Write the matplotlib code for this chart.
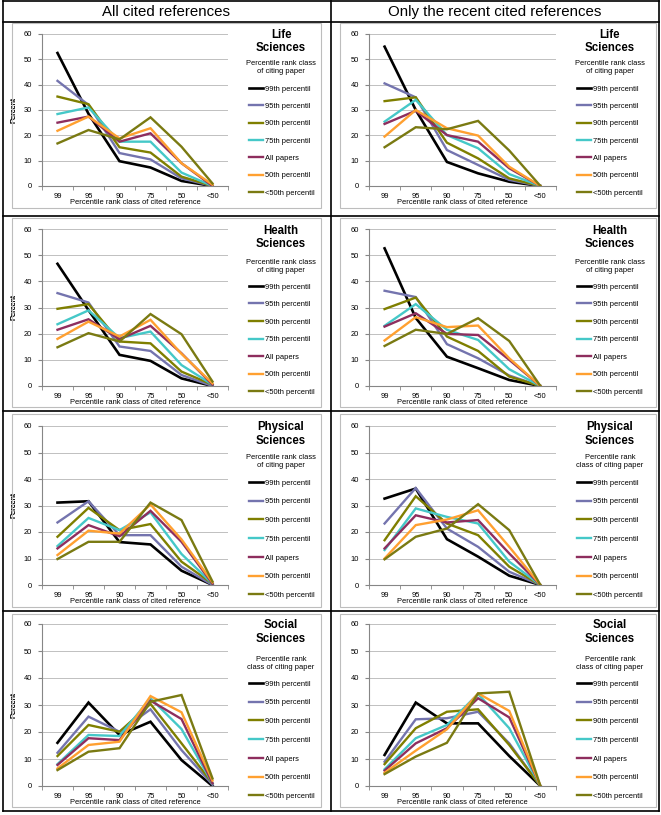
import matplotlib.pyplot as plt
from matplotlib.lines import Line2D
from matplotlib.patches import Rectangle

plt.rcParams['font.family'] = ['Liberation Sans', 'DejaVu Sans']

# ---- data (percent of cited references) ----
categories = ["99", "95", "90", "75", "50", "<50"]
series_labels = ["99th percentil", "95th percentil", "90th percentil",
                 "75th percentil", "All papers", "50th percentil",
                 "<50th percentil"]
series_colors = ["#000000", "#7474AE", "#7F7F00", "#45C8C8",
                 "#8E2E5E", "#FFA030", "#7A7A12"]
headers = ["All cited references", "Only the recent cited references"]
fields = ["Life\nSciences", "Health\nSciences", "Physical\nSciences", "Social\nSciences"]

life_all = [
    [52.5, 28.5, 9.8, 7.3, 2.0, 0.0],
    [41.5, 32.0, 13.0, 10.5, 3.0, 0.0],
    [35.3, 32.3, 15.3, 13.2, 3.7, 0.0],
    [28.4, 31.0, 17.5, 17.5, 5.3, 0.0],
    [25.0, 27.4, 17.5, 20.8, 9.0, 0.0],
    [21.8, 27.4, 18.8, 22.8, 9.0, 0.5],
    [16.8, 22.1, 18.4, 27.1, 15.5, 1.0],
]
life_recent = [
    [55.0, 30.0, 9.5, 5.0, 1.7, 0.0],
    [40.5, 35.0, 14.2, 8.3, 2.4, 0.0],
    [33.5, 35.0, 17.1, 10.9, 3.0, 0.0],
    [25.4, 34.0, 20.1, 14.9, 4.7, 0.0],
    [24.5, 29.7, 20.1, 17.5, 7.0, 0.0],
    [19.5, 30.0, 22.8, 19.9, 7.6, 0.0],
    [15.3, 23.2, 22.4, 25.7, 14.0, 0.0],
]
health_all = [
    [46.7, 29.0, 11.9, 9.6, 2.9, 0.0],
    [35.5, 31.9, 15.1, 13.4, 4.2, 0.0],
    [29.5, 31.3, 17.0, 16.3, 5.5, 0.5],
    [23.6, 28.9, 18.3, 20.8, 8.0, 0.5],
    [21.5, 25.5, 17.9, 23.0, 12.5, 0.5],
    [18.0, 24.6, 18.9, 25.3, 12.3, 1.0],
    [14.8, 20.2, 17.0, 27.5, 19.8, 1.7],
]
health_recent = [
    [52.6, 26.0, 11.2, 6.8, 2.3, 0.0],
    [36.4, 34.0, 16.0, 10.6, 4.0, 0.0],
    [29.4, 33.8, 18.9, 13.4, 3.6, 0.0],
    [23.0, 31.3, 21.5, 17.6, 6.4, 0.0],
    [22.7, 27.8, 19.9, 19.5, 10.0, 0.0],
    [17.4, 26.3, 22.5, 23.1, 10.6, 0.0],
    [15.3, 21.5, 19.9, 25.9, 17.2, 0.0],
]
physical_all = [
    [31.1, 31.6, 16.2, 15.3, 5.4, 0.0],
    [23.6, 31.6, 18.8, 18.8, 6.9, 0.0],
    [18.2, 29.1, 20.7, 23.0, 8.8, 0.5],
    [14.7, 25.3, 20.7, 27.4, 11.7, 0.5],
    [13.8, 22.6, 18.4, 28.0, 16.3, 0.5],
    [11.3, 20.5, 19.4, 30.4, 17.2, 1.0],
    [9.8, 16.3, 16.3, 31.1, 24.5, 1.3],
]
physical_recent = [
    [32.6, 36.4, 17.3, 10.7, 3.5, 0.0],
    [23.2, 36.6, 21.3, 14.4, 5.0, 0.0],
    [16.9, 33.5, 23.2, 18.8, 6.9, 0.0],
    [13.2, 28.9, 25.7, 23.2, 8.8, 0.0],
    [13.8, 26.3, 23.6, 24.5, 11.9, 0.0],
    [10.0, 22.6, 24.7, 28.2, 14.4, 0.0],
    [9.7, 18.2, 21.3, 30.5, 20.7, 0.0],
]
social_all = [
    [16.0, 30.9, 18.9, 23.8, 9.6, 0.0],
    [12.3, 25.7, 20.1, 28.4, 13.3, 0.5],
    [11.1, 22.6, 20.1, 30.4, 15.8, 1.0],
    [8.1, 18.9, 18.5, 32.5, 21.1, 1.0],
    [7.8, 17.7, 17.0, 31.6, 24.8, 1.0],
    [6.5, 15.2, 16.4, 33.3, 27.3, 2.0],
    [5.9, 12.7, 14.0, 31.2, 33.7, 2.8],
]
social_recent = [
    [11.5, 30.9, 23.2, 23.2, 11.1, 0.0],
    [9.0, 24.7, 25.1, 27.5, 15.8, 0.0],
    [8.1, 21.4, 27.5, 28.4, 15.2, 0.0],
    [6.2, 17.7, 22.6, 34.1, 21.4, 0.0],
    [5.7, 15.8, 21.4, 32.5, 25.4, 0.0],
    [4.9, 13.1, 21.0, 34.3, 27.8, 0.0],
    [4.4, 10.9, 16.0, 34.3, 34.9, 0.0],
]
panels = [[life_all, life_recent], [health_all, health_recent],
          [physical_all, physical_recent], [social_all, social_recent]]

# ---- layout in pixels ----
W, H = 661, 815
fig = plt.figure(figsize=(W / 100, H / 100), dpi=100)


def fx(x):
    return x / W


def fy(y):
    return 1 - y / H


col_plot_x = [(42, 228), (369, 556)]
row_plot_y = [(34, 186), (229, 386), (426, 585), (624, 786)]
col_frame_x = [(12, 321), (340, 656)]
row_frame_y = [(23, 208), (218, 407), (414, 607), (614, 807)]
legend_x = [249, 577]
title_cx = [281, 610]
# title line1, title line2, subtitle line1, first legend entry, spacing
row_leg = [(35, 48, 63, 89, 17.4), (231, 244, 262, 287, 17.6),
           (427, 441, 457, 483, 18.8), (625, 639, 659, 684, 18.8)]
subtitles = [["Percentile rank class\nof citing paper"] * 2,
             ["Percentile rank class\nof citing paper"] * 2,
             ["Percentile rank class\nof citing paper", "Percentile rank\nclass of citing paper"],
             ["Percentile rank\nclass of citing paper"] * 2]

# table lines
tl = dict(transform=fig.transFigure, color="black", lw=1.2)
for yy in [1, 21.7, 216, 411, 611, 811]:
    fig.add_artist(Line2D([fx(2.5), fx(659)], [fy(yy), fy(yy)], **tl))
for xx in [2.5, 330.7, 659]:
    fig.add_artist(Line2D([fx(xx), fx(xx)], [fy(1), fy(811)], **tl))

for c, h in enumerate(headers):
    fig.text(fx([166, 495][c]), fy(12), h, ha="center", va="center", fontsize=10.8)

x = list(range(len(categories)))
for r in range(4):
    for c in range(2):
        fx0, fx1 = col_frame_x[c]
        fy0, fy1 = row_frame_y[r]
        fig.add_artist(Rectangle((fx(fx0), fy(fy1)), fx(fx1) - fx(fx0), fy(fy0) - fy(fy1),
                                 transform=fig.transFigure, fill=False,
                                 edgecolor="#BDBDBD", lw=0.8))

        x0, x1 = col_plot_x[c]
        y0, y1 = row_plot_y[r]
        ax = fig.add_axes([fx(x0), fy(y1), fx(x1) - fx(x0), fy(y0) - fy(y1)])
        data = panels[r][c]
        lines = []
        for vals, lab, col in zip(data, series_labels, series_colors):
            ln, = ax.plot(x, vals, color=col, lw=1.9 if col == "#000000" else 1.7,
                          label=lab, solid_joinstyle="miter")
            lines.append(ln)

        ax.set_xlim(-0.5, 5.5)
        ax.set_ylim(0, 60)
        ax.set_yticks(range(0, 61, 10))
        ax.set_xticks(x)
        ax.set_xticklabels(categories)
        ax.set_xticks([i - 0.5 for i in range(7)], minor=True)
        ax.tick_params(axis="x", which="major", length=0, pad=5, labelsize=5.4)
        ax.tick_params(axis="x", which="minor", length=3, color="#868686")
        ax.tick_params(axis="y", length=3, color="#868686", pad=4, labelsize=5.4)
        ax.grid(axis="y", color="#C0C0C0", lw=0.7)
        ax.set_axisbelow(True)
        for s in ["top", "right"]:
            ax.spines[s].set_visible(False)
        for s in ["left", "bottom"]:
            ax.spines[s].set_color("#868686")
            ax.spines[s].set_linewidth(0.8)
        ax.set_xlabel("Percentile rank class of cited reference", fontsize=5.4, labelpad=-0.5)
        ax.set_ylabel("Percent", fontsize=5.4)
        ax.yaxis.set_label_coords((17 - x0) / (x1 - x0), 0.5)

        t1, t2, s1, first, sp = row_leg[r]
        fig.text(fx(title_cx[c]), fy((t1 + t2) / 2), fields[r], ha="center", va="center",
                 fontsize=8.3, fontweight="bold", linespacing=1.15)
        fig.text(fx(title_cx[c]), fy(s1 + 4.5), subtitles[r][c], ha="center", va="center",
                 fontsize=5.4, linespacing=1.25)
        ax.legend(handles=lines, loc="upper left",
                  bbox_to_anchor=(fx(legend_x[c]), fy(first - 3.7)),
                  bbox_transform=fig.transFigure, frameon=False, fontsize=5.4,
                  handlelength=1.8, handletextpad=0.35, borderpad=0, borderaxespad=0,
                  labelspacing=(sp - 7.3) / 7.5)

fig.savefig("out.png", dpi=100)
